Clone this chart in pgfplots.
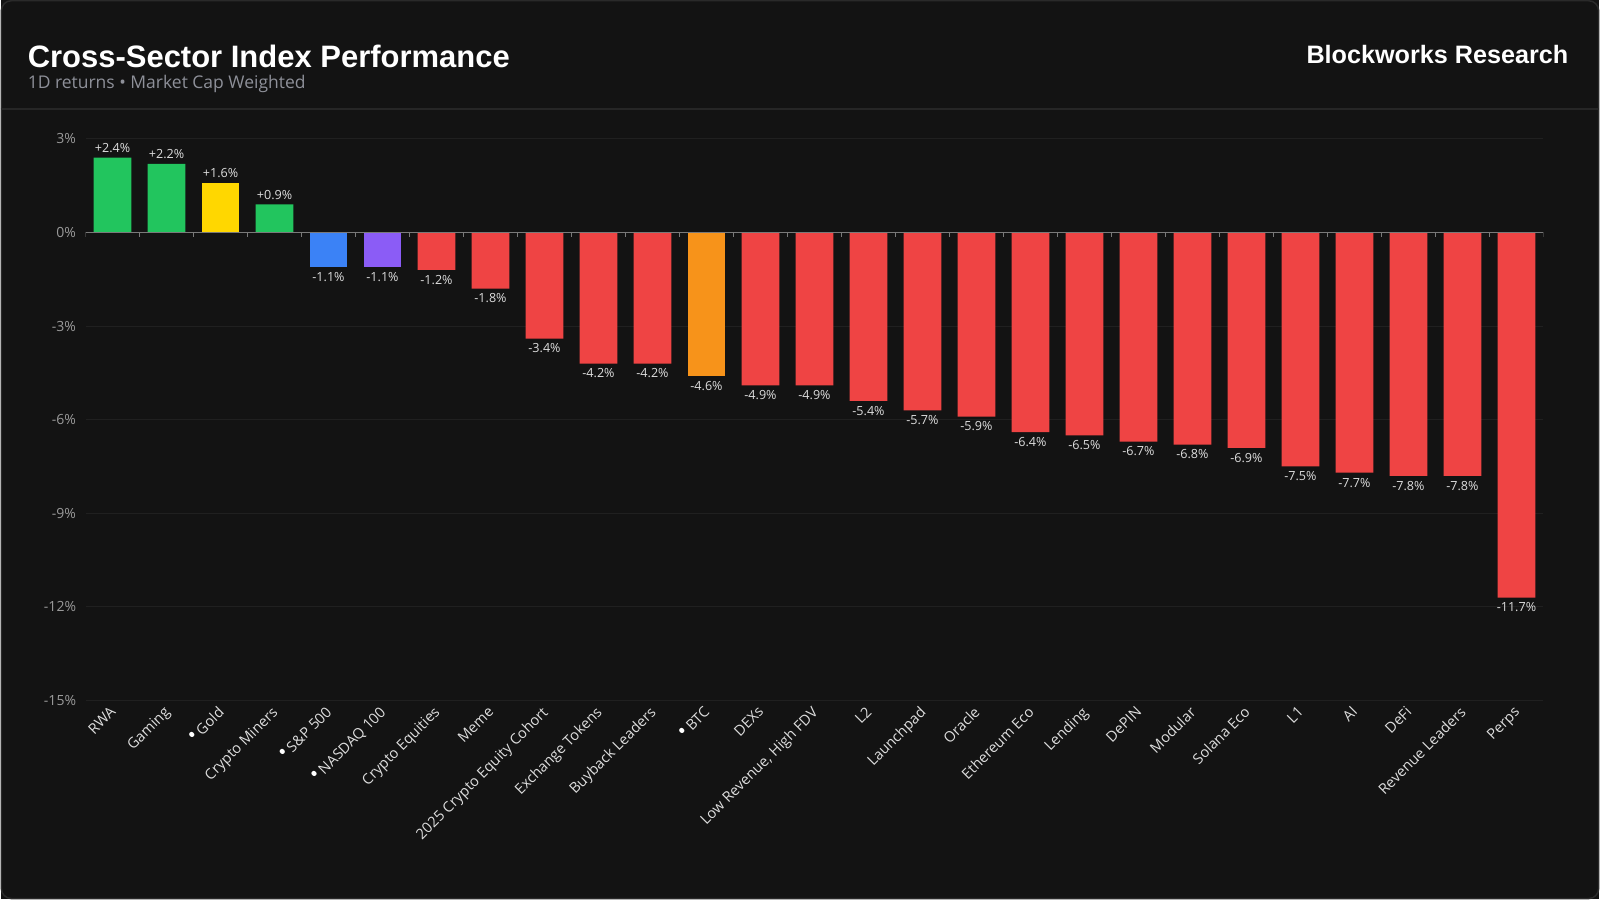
\documentclass[border=0pt]{standalone}
\usepackage{fontspec}
\setmainfont{Open Sans}
\newfontfamily\titlefont{Liberation Sans}
\usepackage{pgfplots}
\pgfplotsset{compat=1.18}
\definecolor{bg}{HTML}{131313}
\definecolor{framec}{HTML}{2A2A2A}
\definecolor{sepc}{HTML}{262626}
\definecolor{gridc}{HTML}{202020}
\definecolor{zeroc}{HTML}{7A7A7A}
\definecolor{subc}{HTML}{8E9099}
\definecolor{ytc}{HTML}{9A9A9A}
\definecolor{labc}{HTML}{DDDDDD}
\definecolor{cgreen}{HTML}{22C55E}
\definecolor{cgold}{HTML}{FFD700}
\definecolor{cblue}{HTML}{3B82F6}
\definecolor{cpurple}{HTML}{8B5CF6}
\definecolor{cred}{HTML}{EF4444}
\definecolor{corange}{HTML}{F7931A}
\newcommand{\bul}{{\color{white}\scalebox{1.5}{•}}\,}
\begin{document}
\begin{tikzpicture}
\fill[bg] (0pt,0pt) rectangle (1600pt,900pt);
\draw[framec, line width=1.5pt, rounded corners=10pt] (0.75pt,0.75pt) rectangle (1599.25pt,899.25pt);
\draw[sepc, line width=1.2pt] (0pt,791pt) -- (1600pt,791pt);
\node[anchor=base west, inner sep=0pt, text=white, font=\titlefont\bfseries\fontsize{31}{36}\selectfont] at (27pt,832pt) {Cross-Sector Index Performance};
\node[anchor=base west, inner sep=0pt, text=subc, font=\fontsize{17.5}{21}\selectfont] at (27pt,811pt) {1D returns • Market Cap Weighted};
\node[anchor=base east, inner sep=0pt, text=white, font=\titlefont\bfseries\fontsize{25.2}{30}\selectfont] at (1569pt,836pt) {Blockworks Research};
\begin{axis}[
  at={(85pt,199pt)}, anchor=south west,
  width=1459pt, height=562pt, scale only axis,
  xmin=-0.5, xmax=26.5, ymin=-15, ymax=3,
  axis line style={draw=none},
  ytick={-15,-12,-9,-6,-3,0,3},
  yticklabel={\pgfmathprintnumber{\tick}\%},
  /pgf/number format/assume math mode=true,
  yticklabel style={text=ytc, font=\fontsize{14}{16}\selectfont, xshift=-6pt},
  ymajorgrids, grid style={gridc, line width=1pt},
  major tick length=0pt,
  xtick={0,...,26},
  xticklabels={RWA, Gaming, {\bul Gold}, Crypto Miners, {\bul S\&P 500}, {\bul NASDAQ 100}, Crypto Equities, Meme, 2025 Crypto Equity Cohort, Exchange Tokens, Buyback Leaders, {\bul BTC}, DEXs, {Low Revenue, High FDV}, L2, Launchpad, Oracle, Ethereum Eco, Lending, DePIN, Modular, Solana Eco, L1, AI, DeFi, Revenue Leaders, Perps},
  xticklabel style={rotate=45, anchor=north east, text=labc, font=\fontsize{14.6}{17}\selectfont, inner sep=1pt, xshift=-5pt},
  ybar, bar width=0.7, bar shift=0pt,
  nodes near coords={\pgfmathprintnumber[showpos,fixed,fixed zerofill,precision=1]{\pgfplotspointmeta}\%},
  nodes near coords style={text=labc, font=\fontsize{12.6}{15}\selectfont, inner sep=5pt},
]
\addplot[fill=cgreen, draw=none] coordinates {(0,2.4) (1,2.2) (3,0.9)};
\addplot[fill=cgold, draw=none] coordinates {(2,1.6)};
\addplot[fill=cblue, draw=none] coordinates {(4,-1.1)};
\addplot[fill=cpurple, draw=none] coordinates {(5,-1.1)};
\addplot[fill=corange, draw=none] coordinates {(11,-4.6)};
\addplot[fill=cred, draw=none] coordinates {(6,-1.2) (7,-1.8) (8,-3.4) (9,-4.2) (10,-4.2) (12,-4.9) (13,-4.9) (14,-5.4) (15,-5.7) (16,-5.9) (17,-6.4) (18,-6.5) (19,-6.7) (20,-6.8) (21,-6.9) (22,-7.5) (23,-7.7) (24,-7.8) (25,-7.8) (26,-11.7)};
\draw[zeroc, line width=1pt] (axis cs:-0.5,0) -- (axis cs:26.5,0);
\pgfplotsinvokeforeach{-0.5,0.5,1.5,2.5,3.5,4.5,5.5,6.5,7.5,8.5,9.5,10.5,11.5,12.5,13.5,14.5,15.5,16.5,17.5,18.5,19.5,20.5,21.5,22.5,23.5,24.5,25.5,26.5}{
  \draw[zeroc, line width=1pt] (axis cs:#1,0) -- ++(0pt,-5pt);
}
\end{axis}
\end{tikzpicture}
\end{document}
